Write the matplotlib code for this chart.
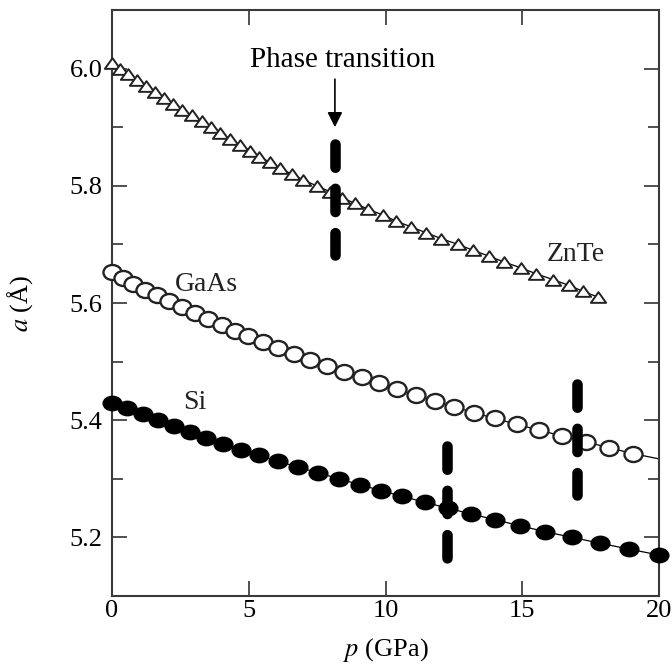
import matplotlib
matplotlib.use("Agg")
import matplotlib.pyplot as plt
from matplotlib.path import Path
from matplotlib.ticker import MultipleLocator, FormatStrFormatter

plt.rcParams['font.family'] = ['Liberation Serif', 'DejaVu Serif']
plt.rcParams['mathtext.fontset'] = 'stix'

# ---- data ----
znte_p = [0, 0.29, 0.60, 0.90, 1.23, 1.57, 1.91, 2.24, 2.57, 2.91, 3.28, 3.62, 3.95,
          4.31, 4.68, 5.05, 5.38, 5.78, 6.14, 6.57, 6.99, 7.48, 7.97, 8.40, 8.88, 9.37,
          9.91, 10.38, 10.93, 11.48, 12.03, 12.65, 13.20, 13.78, 14.33, 14.95, 15.50,
          16.12, 16.71, 17.22, 17.77]
znte_a = [6.01, 6.00, 5.99, 5.98, 5.97, 5.96, 5.95, 5.94, 5.93, 5.92, 5.91, 5.90, 5.89,
          5.88, 5.87, 5.86, 5.85, 5.84, 5.83, 5.82, 5.81, 5.80, 5.79, 5.78, 5.77, 5.76,
          5.75, 5.74, 5.73, 5.72, 5.71, 5.70, 5.69, 5.68, 5.67, 5.66, 5.65, 5.64, 5.63,
          5.62, 5.61]

gaas_p = [0, 0.39, 0.78, 1.21, 1.63, 2.08, 2.55, 3.03, 3.52, 4.01, 4.50, 4.99, 5.52,
          6.06, 6.65, 7.25, 7.87, 8.50, 9.13, 9.77, 10.43, 11.10, 11.80, 12.50, 13.22,
          14.00, 14.80, 15.62, 16.46, 17.32, 18.18, 19.05]
gaas_a = [5.653, 5.643, 5.633, 5.623, 5.613, 5.603, 5.593, 5.583, 5.573, 5.563, 5.553,
          5.543, 5.533, 5.523, 5.513, 5.503, 5.493, 5.483, 5.473, 5.463, 5.453, 5.443,
          5.433, 5.423, 5.413, 5.403, 5.393, 5.383, 5.373, 5.363, 5.353, 5.343]
gaas_line_end_p = 20.0
gaas_line_end_a = 5.334

si_p = [0, 0.55, 1.12, 1.68, 2.25, 2.85, 3.44, 4.06, 4.72, 5.37, 6.07, 6.80, 7.55,
        8.30, 9.05, 9.82, 10.62, 11.43, 12.27, 13.13, 14.02, 14.90, 15.82, 16.82,
        17.86, 18.90, 20.0]
si_a = [5.43, 5.42, 5.41, 5.40, 5.39, 5.38, 5.37, 5.36, 5.35, 5.34, 5.33, 5.32, 5.31,
        5.30, 5.29, 5.28, 5.27, 5.26, 5.25, 5.24, 5.23, 5.22, 5.21, 5.20, 5.19, 5.18,
        5.17]

# phase transitions (pressure, lower a, upper a)
trans_p = [8.15, 12.25, 17.0]
trans_lo = [5.682, 5.159, 5.272]
trans_hi = [5.872, 5.356, 5.461]

labels = ['ZnTe', 'GaAs', 'Si']
label_p = [16.97, 3.44, 3.03]
label_a = [5.682, 5.631, 5.431]

# ---- marker shapes (slightly wide, as in the picture) ----
uc = Path.unit_circle()
ell_si = Path(uc.vertices * [1.3, 1.0], uc.codes)
ell_ga = Path(uc.vertices * [1.2, 1.0], uc.codes)
tri = Path([(0, 0.7), (-1, -0.7), (1, -0.7), (0, 0.7)],
           [Path.MOVETO, Path.LINETO, Path.LINETO, Path.CLOSEPOLY])

fig = plt.figure(figsize=(6.72, 6.66), dpi=100)
ax = fig.add_axes([112/672, 1-596/666, (659-112)/672, (596-10)/666])

# lines
ax.plot(znte_p, znte_a, color='black', lw=0.9, zorder=2)
ax.plot(gaas_p + [gaas_line_end_p], gaas_a + [gaas_line_end_a], color='black', lw=0.9, zorder=2)
ax.plot(si_p, si_a, color='black', lw=0.9, zorder=2)

# markers
ax.plot(znte_p, znte_a, linestyle='none', marker=tri, markersize=11,
        mfc='white', mec='#222222', mew=1.4, zorder=3, clip_on=False)
ax.plot(gaas_p, gaas_a, linestyle='none', marker=ell_ga, markersize=13,
        mfc='white', mec='#222222', mew=1.7, zorder=3, clip_on=False)
ax.plot(si_p, si_a, linestyle='none', marker=ell_si, markersize=13.5,
        mfc='black', mec='black', mew=1.0, zorder=3, clip_on=False)

# phase-transition dashed bars
for p, lo, hi in zip(trans_p, trans_lo, trans_hi):
    ln, = ax.plot([p, p], [hi, lo], color='black', lw=7.6, zorder=5,
                  dash_capstyle='round', solid_capstyle='round')
    ln.set_dashes((2.2, 2.0))

# annotation
ax.text(8.45, 6.014, 'Phase transition', ha='center', va='center', fontsize=21)
ax.annotate('', xy=(8.15, 5.900), xytext=(8.15, 5.982),
            arrowprops=dict(arrowstyle='-|>,head_length=0.6,head_width=0.3',
                            color='black', lw=1.2, mutation_scale=15,
                            shrinkA=0, shrinkB=0))

for t, p, a in zip(labels, label_p, label_a):
    ax.text(p, a, t, ha='center', va='center', fontsize=20, color='#222222')

ax.set_xlim(0, 20)
ax.set_ylim(5.1, 6.1)
ax.xaxis.set_major_locator(MultipleLocator(5))
ax.yaxis.set_major_locator(MultipleLocator(0.2))
ax.yaxis.set_minor_locator(MultipleLocator(0.1))
ax.yaxis.set_major_formatter(FormatStrFormatter('%.1f'))

ax.tick_params(which='both', direction='in', top=True, right=True,
               width=1.2, color='#333333', labelsize=19)
ax.tick_params(which='major', length=11)
ax.tick_params(which='minor', length=8)
ax.tick_params(axis='x', pad=3)
ax.tick_params(axis='y', pad=7)
for s in ax.spines.values():
    s.set_linewidth(1.5)
    s.set_color('#3a3a3a')

ax.set_xlabel(r'$p$ (GPa)', fontsize=19, labelpad=10)
ax.set_ylabel(r'$a$ (Å)', fontsize=19, labelpad=25)

fig.savefig('out.png', dpi=100)
